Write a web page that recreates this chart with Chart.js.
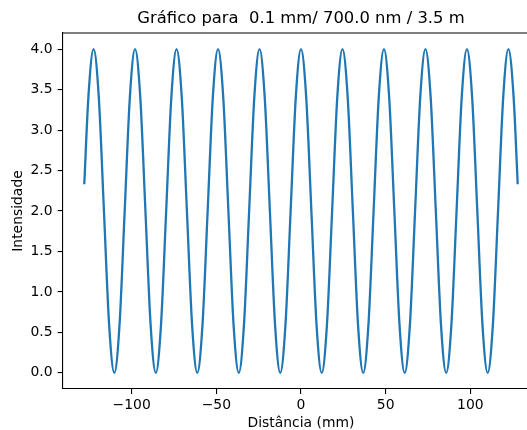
<!DOCTYPE html>
<html>
<head>
<meta charset="utf-8">
<script src="https://cdn.jsdelivr.net/npm/chart.js@4.4.1/dist/chart.umd.min.js"></script>
<style>
  html, body { margin: 0; padding: 0; background: #fff; overflow: hidden; }
  #wrap { width: 527px; height: 430px; overflow: hidden; position: relative; }
  #c { position: absolute; left: 0; top: 0; }
</style>
</head>
<body>
<div id="wrap"><canvas id="c" width="560" height="430"></canvas></div>
<script>
const chartTitle = 'Gráfico para  0.1 mm/ 700.0 nm / 3.5 m';
const xLabel = 'Distância (mm)';
const yLabel = 'Intensidade';

const distanciaMm = [
  -128, -125.56, -122.5, -119.44, -116.38, -113.31, -110.25, -107.19, -104.13, -101.06,
  -98, -94.94, -91.88, -88.81, -85.75, -82.69, -79.63, -76.56, -73.5, -70.44,
  -67.38, -64.31, -61.25, -58.19, -55.13, -52.06, -49, -45.94, -42.88, -39.81,
  -36.75, -33.69, -30.63, -27.56, -24.5, -21.44, -18.38, -15.31, -12.25, -9.19,
  -6.13, -3.06, 0, 3.06, 6.13, 9.19, 12.25, 15.31, 18.38, 21.44,
  24.5, 27.56, 30.63, 33.69, 36.75, 39.81, 42.88, 45.94, 49, 52.06,
  55.13, 58.19, 61.25, 64.31, 67.38, 70.44, 73.5, 76.56, 79.63, 82.69,
  85.75, 88.81, 91.88, 94.94, 98, 101.06, 104.13, 107.19, 110.25, 113.31,
  116.38, 119.44, 122.5, 125.56, 128
];

const intensidade = [
  2.33, 3.41,
  4, 3.41, 2, 0.59, 0, 0.59, 2, 3.41,
  4, 3.41, 2, 0.59, 0, 0.59, 2, 3.41,
  4, 3.41, 2, 0.59, 0, 0.59, 2, 3.41,
  4, 3.41, 2, 0.59, 0, 0.59, 2, 3.41,
  4, 3.41, 2, 0.59, 0, 0.59, 2, 3.41,
  4, 3.41, 2, 0.59, 0, 0.59, 2, 3.41,
  4, 3.41, 2, 0.59, 0, 0.59, 2, 3.41,
  4, 3.41, 2, 0.59, 0, 0.59, 2, 3.41,
  4, 3.41, 2, 0.59, 0, 0.59, 2, 3.41,
  4, 3.41, 2, 0.59, 0, 0.59, 2, 3.41,
  4, 3.41, 2.33
];

const xTicks = [-100, -50, 0, 50, 100];
const yTicks = [0, 0.5, 1, 1.5, 2, 2.5, 3, 3.5, 4];

const FONT = 'DejaVu Sans';

const framePlugin = {
  id: 'frame',
  afterDraw(chart) {
    const {ctx, chartArea: a} = chart;
    ctx.save();
    ctx.strokeStyle = '#000';
    ctx.lineWidth = 1.1;
    ctx.beginPath();
    ctx.moveTo(a.left, a.top);
    ctx.lineTo(a.right, a.top);
    ctx.lineTo(a.right, a.bottom);
    ctx.stroke();
    ctx.fillStyle = '#000';
    ctx.font = '16.4px "' + FONT + '"';
    ctx.textAlign = 'center';
    ctx.textBaseline = 'middle';
    ctx.fillText(chartTitle, (a.left + a.right) / 2, 19);
    ctx.restore();
  }
};

const points = distanciaMm.map((x, i) => ({x: x, y: intensidade[i]}));

new Chart(document.getElementById('c'), {
  type: 'line',
  data: {
    datasets: [{
      data: points,
      borderColor: '#1f77b4',
      borderWidth: 2.3,
      pointRadius: 0,
      fill: false,
      cubicInterpolationMode: 'monotone'
    }]
  },
  options: {
    responsive: false,
    animation: false,
    devicePixelRatio: 1,
    layout: { padding: { left: 0, right: 20.6, top: 33, bottom: 0 } },
    plugins: { legend: { display: false }, tooltip: { enabled: false }, title: { display: false } },
    scales: {
      x: {
        type: 'linear',
        min: -140.8,
        max: 140.8,
        afterFit: s => { s.height = 41; },
        afterBuildTicks: s => { s.ticks = xTicks.map(v => ({value: v})); },
        grid: { drawOnChartArea: false, drawTicks: true, tickLength: 5, color: '#000', lineWidth: 1.1 },
        border: { display: true, color: '#000', width: 1.1 },
        ticks: {
          color: '#000', padding: 3, maxRotation: 0,
          font: { family: FONT, size: 13.9 },
          callback: v => (v < 0 ? '\u2212' + Math.abs(v) : String(v))
        },
        title: {
          display: true, text: xLabel, color: '#000',
          font: { family: FONT, size: 13.9, lineHeight: 1 },
          padding: { top: 0, bottom: 0 }
        }
      },
      y: {
        type: 'linear',
        min: -0.2,
        max: 4.2,
        afterFit: s => { s.width = 62.6; },
        afterBuildTicks: s => { s.ticks = yTicks.map(v => ({value: v})); },
        grid: { drawOnChartArea: false, drawTicks: true, tickLength: 5, color: '#000', lineWidth: 1.1 },
        border: { display: true, color: '#000', width: 1.1 },
        ticks: {
          color: '#000', padding: 5,
          font: { family: FONT, size: 13.9 },
          callback: v => Number(v).toFixed(1)
        },
        title: {
          display: true, text: yLabel, color: '#000',
          font: { family: FONT, size: 13.9, lineHeight: 1.2 },
          padding: { top: 10, bottom: 0 }
        }
      }
    }
  },
  plugins: [framePlugin]
});
</script>
</body>
</html>
